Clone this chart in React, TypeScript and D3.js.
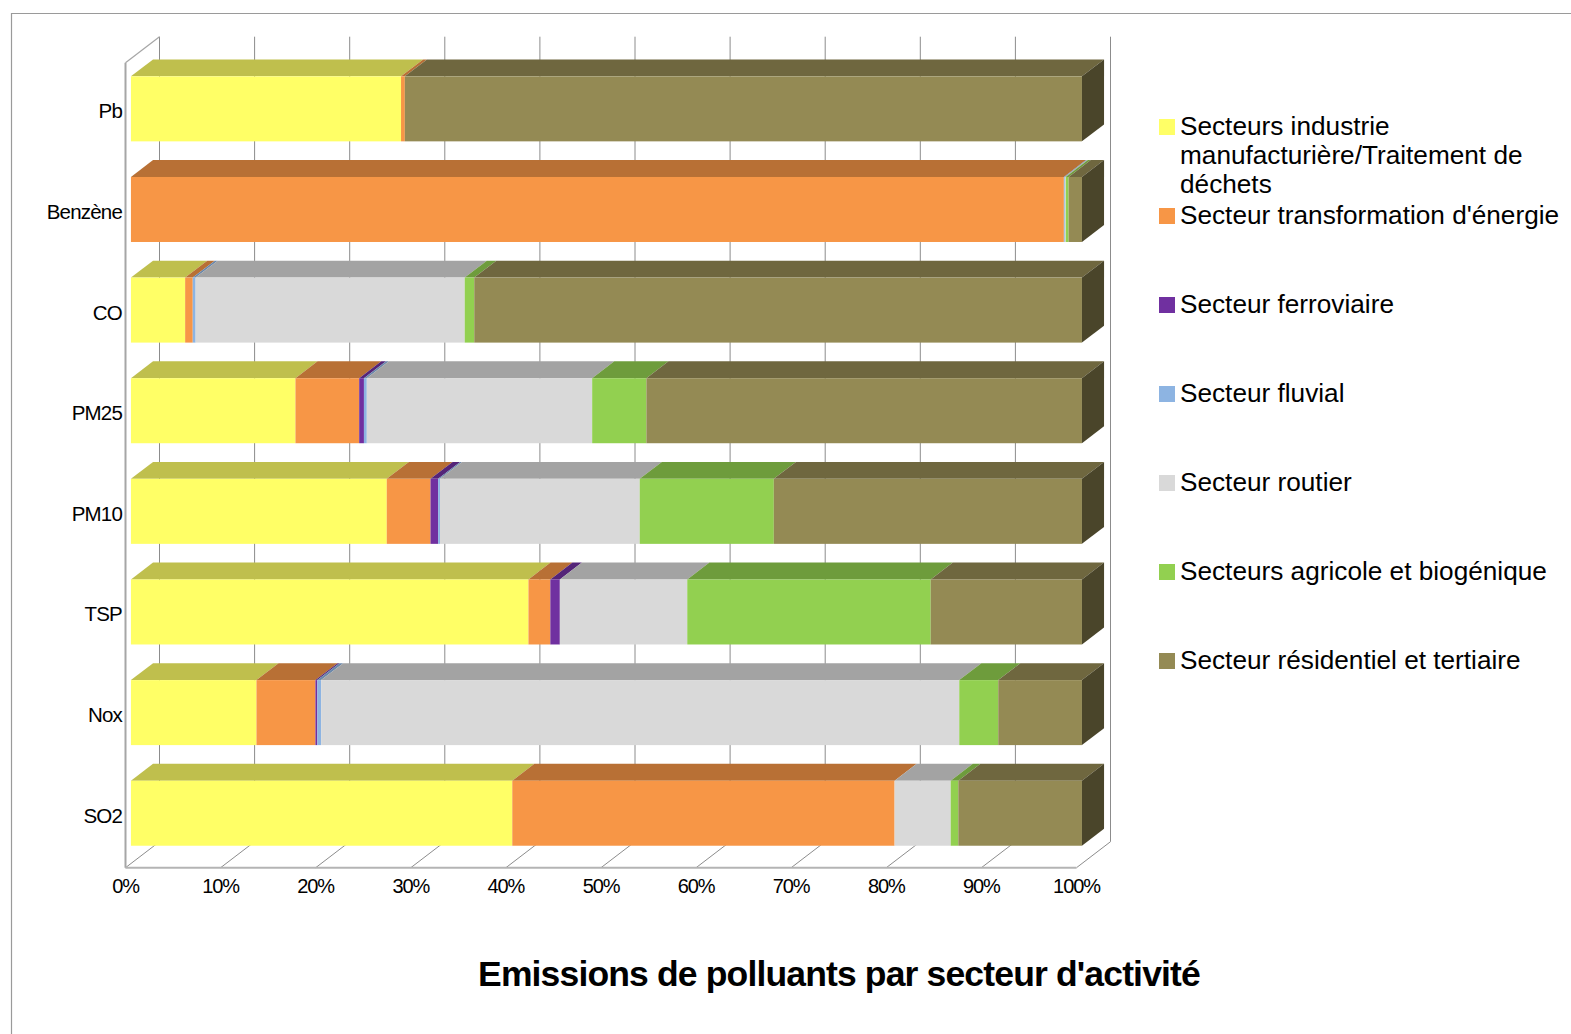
import React from "react";
import * as d3 from "d3";

// Pollutants (rows, top to bottom)
const categories = ["Pb", "Benzène", "CO", "PM25", "PM10", "TSP", "Nox", "SO2"];

// Share of emissions per sector, in %
const industrie = [28.4, 0, 5.7, 17.3, 26.9, 41.8, 13.2, 40.1];
const energie = [0.4, 98.1, 0.8, 6.7, 4.6, 2.3, 6.2, 40.2];
const ferroviaire = [0, 0, 0, 0.5, 0.8, 1.0, 0.2, 0];
const fluvial = [0, 0.1, 0.3, 0.3, 0.2, 0, 0.4, 0];
const routier = [0, 0.1, 28.3, 23.7, 21.0, 13.4, 67.1, 5.9];
const agricole = [0, 0.3, 1.0, 5.7, 14.1, 25.6, 4.1, 0.8];
const residentiel = [71.2, 1.4, 63.9, 45.8, 32.4, 15.9, 8.8, 13.0];

const seriesNames = [
  "Secteurs industrie manufacturière/Traitement de déchets",
  "Secteur transformation d'énergie",
  "Secteur ferroviaire",
  "Secteur fluvial",
  "Secteur routier",
  "Secteurs agricole et biogénique",
  "Secteur résidentiel et tertiaire",
];
const seriesValues = [industrie, energie, ferroviaire, fluvial, routier, agricole, residentiel];

const frontColors = ["#FFFF66", "#F79646", "#7030A0", "#8DB4E2", "#D9D9D9", "#92D050", "#948A54"];
const topColors = ["#BFBF4D", "#B87035", "#542478", "#6A87AA", "#A3A3A3", "#6E9C3C", "#6F673F"];
const sideColors = ["#80803A", "#7B4B24", "#381850", "#475A71", "#6D6D6D", "#496828", "#4A452A"];

const tickValues = [0, 0.1, 0.2, 0.3, 0.4, 0.5, 0.6, 0.7, 0.8, 0.9, 1];

// Legend text, wrapped into lines
const legendLines = [
  ["Secteurs industrie", "manufacturière/Traitement de", "déchets"],
  ["Secteur transformation d'énergie"],
  ["Secteur ferroviaire"],
  ["Secteur fluvial"],
  ["Secteur routier"],
  ["Secteurs agricole et biogénique"],
  ["Secteur résidentiel et tertiaire"],
];

const W = 1571;
const H = 1034;

// Front plane of the 3D box
const x = d3.scaleLinear().domain([0, 1]).range([125.5, 1076.5]);
const y = d3
  .scaleBand<string>()
  .domain(categories)
  .range([62.7, 867.7])
  .paddingInner(0.354)
  .paddingOuter(0.177);

// Depth vector of the box
const DX = 34;
const DY = -26;
// Bars sit between these fractions of the depth
const B0 = 0.16;
const B1 = 0.81;

const FONT = "'Liberation Sans', Arial, Helvetica, sans-serif";

export default function App() {
  const rows = categories.map((c, i) => {
    const o: Record<string, number | string> = { category: c };
    seriesNames.forEach((s, k) => (o[s] = seriesValues[k][i]));
    return o;
  });
  const stack = d3.stack<any>().keys(seriesNames).offset(d3.stackOffsetExpand);
  const stacked = stack(rows);

  const fdx = B0 * DX;
  const fdy = B0 * DY;
  const bdx = (B1 - B0) * DX;
  const bdy = (B1 - B0) * DY;

  const yFront = 62.7;
  const yBottom = 867.7;
  const backTop = yFront + DY;
  const backBottom = yBottom + DY;

  const bars: React.ReactNode[] = [];
  categories.forEach((cat, ci) => {
    const yt = y(cat)! + fdy;
    const h = y.bandwidth();
    let lastK = -1;
    stacked.forEach((layer, k) => {
      const [v0, v1] = layer[ci];
      if (v1 - v0 <= 0) return;
      lastK = k;
      const x0 = x(v0) + fdx;
      const x1 = x(v1) + fdx;
      const top = `M${x0},${yt} L${x1},${yt} L${x1 + bdx},${yt + bdy} L${x0 + bdx},${yt + bdy} Z`;
      bars.push(<path key={`t-${ci}-${k}`} d={top} fill={topColors[k]} />);
      bars.push(
        <rect key={`f-${ci}-${k}`} x={x0} y={yt} width={Math.max(0.6, x1 - x0)} height={h} fill={frontColors[k]} />
      );
    });
    if (lastK >= 0) {
      const xe = x(1) + fdx;
      const side = `M${xe},${yt} L${xe + bdx},${yt + bdy} L${xe + bdx},${yt + h + bdy} L${xe},${yt + h} Z`;
      bars.push(<path key={`s-${ci}`} d={side} fill={sideColors[lastK]} />);
    }
  });

  return (
    <svg
      width={W}
      height={H}
      style={{ position: "absolute", left: 0, top: 0, background: "#fff" }}
      fontFamily={FONT}
    >
      {/* outer frame */}
      <path d={`M11.5,${H} L11.5,13.5 L${W},13.5`} fill="none" stroke="#9a9a9a" strokeWidth={1.2} />

      {/* back wall grid */}
      {tickValues.map((t) => (
        <line
          key={`g-${t}`}
          x1={x(t) + DX}
          x2={x(t) + DX}
          y1={backTop}
          y2={backBottom}
          stroke="#8c8c8c"
          strokeWidth={1}
        />
      ))}
      {/* floor depth lines */}
      {tickValues.map((t) => (
        <line
          key={`fl-${t}`}
          x1={x(t)}
          x2={x(t) + DX}
          y1={yBottom}
          y2={backBottom}
          stroke="#8c8c8c"
          strokeWidth={1}
        />
      ))}
      {/* left wall */}
      <line x1={x(0)} y1={yBottom} x2={x(0)} y2={yFront} stroke="#a6a6a6" strokeWidth={2} />
      <line x1={x(0)} y1={yFront} x2={x(0) + DX} y2={backTop} stroke="#a6a6a6" strokeWidth={1.2} />
      {/* floor front edge */}
      <line x1={x(0)} x2={x(1)} y1={yBottom} y2={yBottom} stroke="#b4b4b4" strokeWidth={2} />

      {bars}

      {/* category labels */}
      {categories.map((c) => (
        <text
          key={`c-${c}`}
          x={122}
          y={y(c)! + fdy + y.bandwidth() / 2 + 9.5}
          textAnchor="end"
          fontSize={20.5}
          letterSpacing={-0.8}
          fill="#000"
        >
          {c}
        </text>
      ))}

      {/* axis tick labels */}
      {tickValues.map((t) => (
        <text
          key={`x-${t}`}
          x={x(t)}
          y={892.5}
          textAnchor="middle"
          fontSize={20}
          letterSpacing={-1.1}
          fill="#000"
        >
          {d3.format(".0%")(t)}
        </text>
      ))}

      {/* legend */}
      {legendLines.map((lines, k) => {
        const base = 134.5 + k * 89;
        return (
          <g key={`l-${k}`}>
            <rect x={1159} y={base - 15.5} width={16} height={16} fill={frontColors[k]} />
            {lines.map((ln, j) => (
              <text key={j} x={1180} y={base + j * 29} fontSize={26.2} fill="#000">
                {ln}
              </text>
            ))}
          </g>
        );
      })}

      {/* title */}
      <text
        x={839}
        y={986}
        textAnchor="middle"
        fontSize={35.5}
        fontWeight="bold"
        letterSpacing={-0.85}
        fill="#000"
      >
        Emissions de polluants par secteur d'activité
      </text>
    </svg>
  );
}
